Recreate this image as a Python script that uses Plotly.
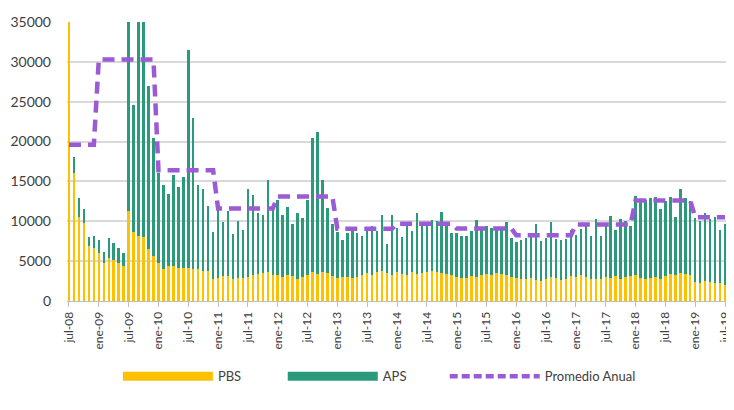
import plotly.graph_objects as go

# ---- data (monthly, jul-08 .. jul-19) ----
pbs = [
    58900, 16000, 10600, 9800, 6900, 6700,                     # 2008 jul-dic
    6000, 4800, 5400, 5200, 4800, 4400, 11300, 8600, 8200, 8000, 6500, 5600,   # 2009
    4800, 4000, 4400, 4400, 4200, 4200, 4200, 4000, 4000, 3750, 3750, 2700,    # 2010
    2900, 3100, 3100, 2700, 2900, 2900, 3000, 3300, 3400, 3500, 3600, 3300,    # 2011
    3200, 3000, 3300, 3100, 2800, 3000, 3200, 3600, 3400, 3700, 3500, 3100,    # 2012
    2900, 3000, 3000, 2900, 3000, 3200, 3500, 3300, 3600, 3800, 3500, 3300,    # 2013
    3600, 3400, 3200, 3700, 3400, 3500, 3600, 3800, 3700, 3500, 3400, 3200,    # 2014
    3000, 2900, 2900, 3100, 3000, 3300, 3400, 3200, 3500, 3400, 3200, 3000,    # 2015
    2900, 2800, 2700, 2900, 2600, 2500, 2800, 3000, 2900, 2600, 2800, 3100,    # 2016
    3000, 3300, 3000, 2800, 2700, 2700, 3000, 2900, 3100, 2800, 3000, 3100,    # 2017
    3200, 2900, 2700, 2900, 3000, 2800, 3100, 3400, 3300, 3500, 3400, 3200,    # 2018
    2400, 2300, 2500, 2400, 2300, 2200, 2000,                                  # 2019 ene-jul
]
total = [
    58900, 18100, 12900, 11500, 8000, 8200,
    7600, 6200, 7900, 7300, 6600, 6000, 80000, 24600, 80000, 80000, 27000, 20500,
    16000, 14600, 13400, 15800, 14300, 15500, 31500, 23000, 14600, 14100, 11900, 8600,
    11500, 9900, 11300, 8400, 10000, 8900, 14100, 13300, 11000, 10800, 15200, 12000,
    12700, 10800, 11800, 9700, 11000, 10400, 12700, 20400, 21200, 15200, 11700, 9600,
    8700, 7700, 8500, 8800, 8500, 8100, 9000, 9400, 8800, 10800, 7200, 10800,
    9200, 8000, 9400, 8800, 11000, 9400, 9400, 10200, 10000, 11200, 9400, 8500,
    8500, 8100, 8100, 8800, 10100, 9200, 9400, 9200, 9200, 9000, 9900, 7900,
    7400, 7700, 7900, 8300, 9700, 7500, 7900, 9900, 7800, 7600, 7800, 8900,
    8300, 9000, 9700, 8200, 10300, 8200, 9700, 10700, 8900, 10300, 10000, 9400,
    13200, 12700, 12700, 12900, 13100, 11500, 12500, 13100, 10600, 14000, 12900, 12500,
    10400, 10000, 11000, 10300, 10600, 8900, 9700,
]
aps = [t - p for t, p in zip(total, pbs)]

years = [2008, 2009, 2010, 2011, 2012, 2013, 2014, 2015, 2016, 2017, 2018, 2019]
promedio_anual = [19600, 30300, 16400, 11600, 13100, 9050, 9700, 9100, 8250, 9600, 12600, 10500]

tick_labels = ["jul-08", "ene-09", "jul-09", "ene-10", "jul-10", "ene-11", "jul-11",
               "ene-12", "jul-12", "ene-13", "jul-13", "ene-14", "jul-14", "ene-15",
               "jul-15", "ene-16", "jul-16", "ene-17", "jul-17", "ene-18", "jul-18",
               "ene-19", "jul-19"]
y_ticks = [0, 5000, 10000, 15000, 20000, 25000, 30000, 35000]

# month categories
months = []
y, m = 2008, 7
for _ in range(len(pbs)):
    months.append(f"{y}-{m:02d}")
    m += 1
    if m > 12:
        m = 1
        y += 1
avg_by_year = dict(zip(years, promedio_anual))
prom_line = [avg_by_year[int(mo[:4])] for mo in months]

C_PBS = "#FFC000"
C_APS = "#2A9A7A"
C_AVG = "#9B5BD4"
FONT = "Lato, 'Liberation Sans', sans-serif"
NB = "\u00a0"

fig = go.Figure()
fig.add_bar(x=months, y=pbs, marker_color=C_PBS, marker_line_width=0, name="PBS", showlegend=False)
fig.add_bar(x=months, y=aps, marker_color=C_APS, marker_line_width=0, name="APS", showlegend=False)
fig.add_scatter(x=months, y=prom_line, mode="lines", name="Promedio Anual", showlegend=False,
                line=dict(color=C_AVG, width=4.5, dash="12px,7px"))
# legend entries (non-breaking spaces keep the wide gaps between entries)
fig.add_scatter(x=[None], y=[None], mode="lines", name="PBS" + NB * 11,
                line=dict(color=C_PBS, width=9))
fig.add_scatter(x=[None], y=[None], mode="lines", name="APS" + NB * 10,
                line=dict(color=C_APS, width=9))
fig.add_scatter(x=[None], y=[None], mode="lines", name="Promedio Anual",
                line=dict(color=C_AVG, width=4.5, dash="8px,4px"))

# page body has an 8px margin, so the figure is sized to fit the 734x410 window
fig.update_layout(
    width=726, height=402,
    barmode="stack", bargap=0.5,
    plot_bgcolor="white", paper_bgcolor="white",
    margin=dict(l=59, r=6, t=14, b=109, autoexpand=False),
    font=dict(family=FONT, size=13, color="#404040"),
    legend=dict(orientation="h", x=0.077, y=-0.27, xanchor="left", yanchor="middle",
                itemwidth=90, traceorder="normal",
                font=dict(size=13, color="#404040"), bgcolor="rgba(0,0,0,0)"),
)
fig.update_xaxes(
    type="category", range=[-0.4, len(months) - 0.4], automargin=False,
    tickvals=months[::6], ticktext=tick_labels, tickangle=-90,
    showgrid=False, showline=True, linecolor="#BFBFBF", linewidth=1,
    ticks="outside", ticklen=5, tickcolor="#BFBFBF",
    tickfont=dict(size=12, color="#404040"),
)
fig.update_yaxes(
    range=[0, 35000], tickvals=y_ticks, ticktext=[str(v) for v in y_ticks], automargin=False,
    showgrid=True, gridcolor="#D9D9D9", gridwidth=1.5, zeroline=False,
    tickfont=dict(size=14, color="#404040"), ticks="", ticklabelstandoff=15,
)

fig.write_html("out.html")
